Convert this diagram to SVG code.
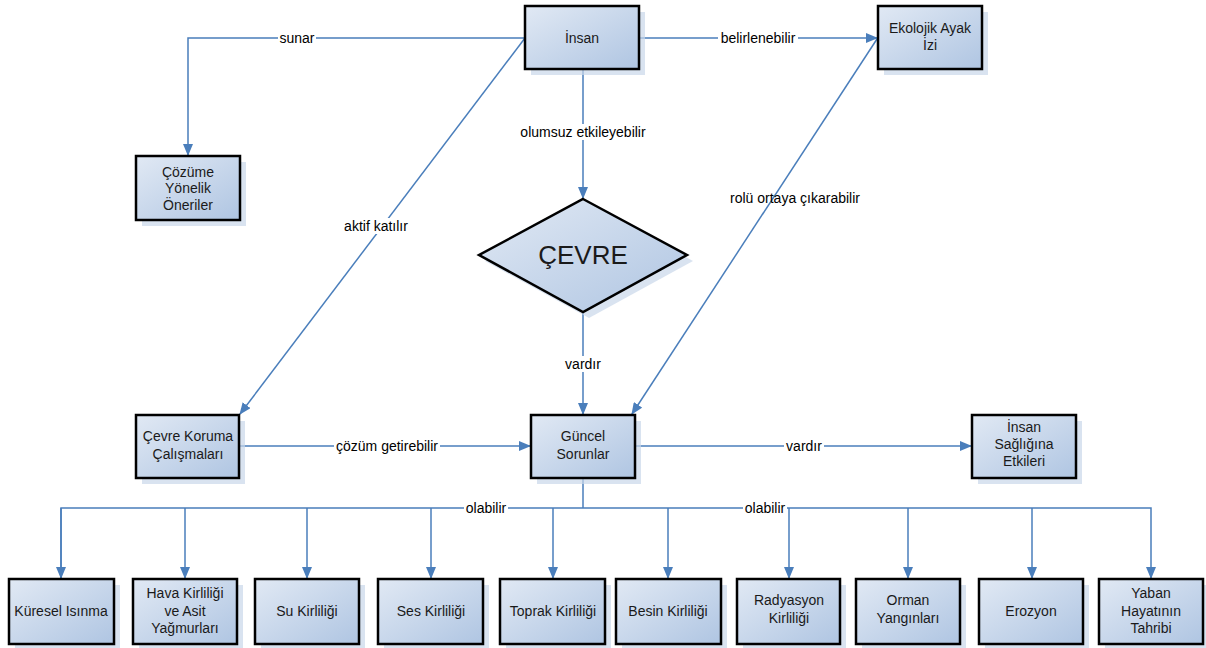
<svg xmlns="http://www.w3.org/2000/svg" width="1206" height="648" viewBox="0 0 1206 648">
<style>
.box{fill:url(#g);stroke:#000;stroke-width:2.5}
.sh{fill:#c9d7ea;opacity:0.7}
.t{font-family:"Liberation Sans",Arial,sans-serif;font-size:14px;fill:#1a1a1a;text-anchor:middle}
.lb{font-family:"Liberation Sans",Arial,sans-serif;font-size:14px;fill:#000;text-anchor:middle}
.c{fill:none;stroke:#4a7ebb;stroke-width:1.5}
.bg{fill:#fff}
</style>
<defs>
<linearGradient id="g" x1="0" y1="0" x2="1" y2="1">
<stop offset="0" stop-color="#e1e9f4"/>
<stop offset="1" stop-color="#afc5e2"/>
</linearGradient>
<marker id="a" markerWidth="12" markerHeight="10" refX="11" refY="5" orient="auto" markerUnits="userSpaceOnUse">
<path d="M0,0 L12,5 L0,10 z" fill="#4a7ebb"/>
</marker>
</defs>

<g id="connectors">
<path class="c" d="M525,38 H188 V155" marker-end="url(#a)"/>
<path class="c" d="M639,38 H877" marker-end="url(#a)"/>
<path class="c" d="M583,69 V198" marker-end="url(#a)"/>
<path class="c" d="M525,38 L240,414" marker-end="url(#a)"/>
<path class="c" d="M583,312 V414" marker-end="url(#a)"/>
<path class="c" d="M877,39 L632,414" marker-end="url(#a)"/>
<path class="c" d="M239,446 H530" marker-end="url(#a)"/>
<path class="c" d="M635,446 H971" marker-end="url(#a)"/>
<path class="c" d="M583,478 V508"/>
<path class="c" d="M61,578 V508 H1151 V578" marker-end="url(#a)"/>
<path class="c" d="M185,508 V578" marker-end="url(#a)"/>
<path class="c" d="M307,508 V578" marker-end="url(#a)"/>
<path class="c" d="M431,508 V578" marker-end="url(#a)"/>
<path class="c" d="M553,508 V578" marker-end="url(#a)"/>
<path class="c" d="M668,508 V578" marker-end="url(#a)"/>
<path class="c" d="M789,508 V578" marker-end="url(#a)"/>
<path class="c" d="M908,508 V578" marker-end="url(#a)"/>
<path class="c" d="M1032,508 V578" marker-end="url(#a)"/>
<path class="c" d="M61,508 V578" marker-end="url(#a)"/>
<rect class="bg" x="278" y="31" width="38" height="15"/>
<text class="lb" x="297" y="43">sunar</text>
<rect class="bg" x="718" y="31" width="80" height="15"/>
<text class="lb" x="758" y="43">belirlenebilir</text>
<rect class="bg" x="518" y="124" width="130" height="16"/>
<text class="lb" x="583" y="137">olumsuz etkileyebilir</text>
<rect class="bg" x="342" y="218" width="68" height="16"/>
<text class="lb" x="376" y="231">aktif katılır</text>
<rect class="bg" x="563" y="356" width="40" height="16"/>
<text class="lb" x="583" y="369">vardır</text>
<text class="lb" x="795" y="203">rolü ortaya çıkarabilir</text>
<rect class="bg" x="334" y="438" width="106" height="16"/>
<text class="lb" x="387" y="451">çözüm getirebilir</text>
<rect class="bg" x="784" y="438" width="40" height="16"/>
<text class="lb" x="804" y="451">vardır</text>
<rect class="bg" x="464" y="500" width="44" height="16"/>
<text class="lb" x="486" y="513">olabilir</text>
<rect class="bg" x="743" y="500" width="44" height="16"/>
<text class="lb" x="765" y="513">olabilir</text>
</g>

<g id="insan"><rect class="sh" x="531" y="12" width="114" height="63"/><rect class="box" x="525" y="6" width="114" height="63"/><text class="t" x="582" y="43">İnsan</text></g>
<g id="ekolojik"><rect class="sh" x="884" y="12" width="104" height="63"/><rect class="box" x="878" y="6" width="104" height="63"/><text class="t" x="930" y="33">Ekolojik Ayak</text><text class="t" x="930" y="50">İzi</text></g>
<g id="cozume"><rect class="sh" x="142" y="162" width="104" height="64"/><rect class="box" x="136" y="156" width="104" height="64"/><text class="t" x="188" y="177">Çözüme</text><text class="t" x="188" y="193">Yönelik</text><text class="t" x="188" y="210">Öneriler</text></g>
<g id="cevre"><path class="sh" d="M589,205 L693,261 L589,318 L485,261 z"/><path class="box" d="M583,199 L687,255 L583,312 L479,255 z"/><text class="t" style="font-size:26px" x="583" y="264">ÇEVRE</text></g>
<g id="cevrekoruma"><rect class="sh" x="142" y="421" width="103" height="63"/><rect class="box" x="136" y="415" width="103" height="63"/><text class="t" x="188" y="441">Çevre Koruma</text><text class="t" x="188" y="459">Çalışmaları</text></g>
<g id="guncel"><rect class="sh" x="537" y="421" width="104" height="63"/><rect class="box" x="531" y="415" width="104" height="63"/><text class="t" x="583" y="441">Güncel</text><text class="t" x="583" y="459">Sorunlar</text></g>
<g id="saglik"><rect class="sh" x="978" y="421" width="104" height="63"/><rect class="box" x="972" y="415" width="104" height="63"/><text class="t" x="1024" y="432">İnsan</text><text class="t" x="1024" y="449">Sağlığına</text><text class="t" x="1024" y="466">Etkileri</text></g>

<g id="kuresel"><rect class="sh" x="15" y="585" width="105" height="65"/><rect class="box" x="9" y="579" width="105" height="65"/><text class="t" x="61" y="616">Küresel Isınma</text></g>
<g id="hava"><rect class="sh" x="139" y="585" width="104" height="65"/><rect class="box" x="133" y="579" width="104" height="65"/><text class="t" x="185" y="598">Hava Kirliliği</text><text class="t" x="185" y="616">ve Asit</text><text class="t" x="185" y="633">Yağmurları</text></g>
<g id="su"><rect class="sh" x="261" y="585" width="104" height="65"/><rect class="box" x="255" y="579" width="104" height="65"/><text class="t" x="307" y="616">Su Kirliliği</text></g>
<g id="ses"><rect class="sh" x="384" y="585" width="105" height="65"/><rect class="box" x="378" y="579" width="105" height="65"/><text class="t" x="431" y="616">Ses Kirliliği</text></g>
<g id="toprak"><rect class="sh" x="506" y="585" width="105" height="65"/><rect class="box" x="500" y="579" width="105" height="65"/><text class="t" x="553" y="616">Toprak Kirliliği</text></g>
<g id="besin"><rect class="sh" x="622" y="585" width="105" height="65"/><rect class="box" x="616" y="579" width="105" height="65"/><text class="t" x="668" y="616">Besin Kirliliği</text></g>
<g id="radyasyon"><rect class="sh" x="743" y="585" width="103" height="65"/><rect class="box" x="737" y="579" width="103" height="65"/><text class="t" x="789" y="605">Radyasyon</text><text class="t" x="789" y="623">Kirliliği</text></g>
<g id="orman"><rect class="sh" x="862" y="585" width="104" height="65"/><rect class="box" x="856" y="579" width="104" height="65"/><text class="t" x="908" y="605">Orman</text><text class="t" x="908" y="623">Yangınları</text></g>
<g id="erozyon"><rect class="sh" x="985" y="585" width="104" height="65"/><rect class="box" x="979" y="579" width="104" height="65"/><text class="t" x="1031" y="616">Erozyon</text></g>
<g id="yaban"><rect class="sh" x="1105" y="585" width="104" height="65"/><rect class="box" x="1099" y="579" width="104" height="65"/><text class="t" x="1151" y="598">Yaban</text><text class="t" x="1151" y="616">Hayatının</text><text class="t" x="1151" y="633">Tahribi</text></g>
</svg>
